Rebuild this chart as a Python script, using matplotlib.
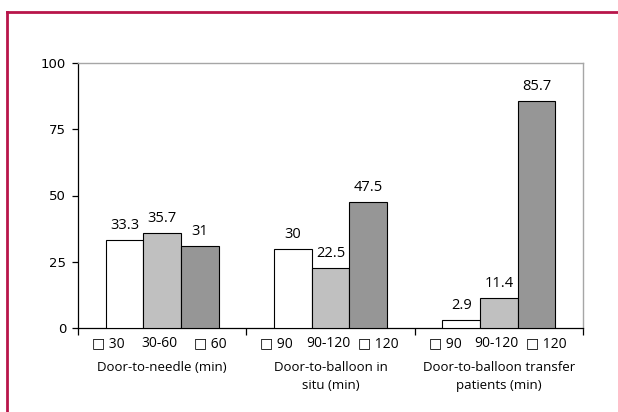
#!/usr/bin/env python3
"""Grouped bar chart: door-to-needle / door-to-balloon times (%)."""

import numpy as np
import matplotlib
matplotlib.use("Agg")
import matplotlib.pyplot as plt
from matplotlib.lines import Line2D

# ── Data ─────────────────────────────────────────────────────────────
categories = ["Door-to-needle (min)",
              "Door-to-balloon in\nsitu (min)",
              "Door-to-balloon transfer\npatients (min)"]
sub_labels = [["\u25a1 30", "30-60", "\u25a1 60"],
              ["\u25a1 90", "90-120", "\u25a1 120"],
              ["\u25a1 90", "90-120", "\u25a1 120"]]
values_low = [33.3, 30, 2.9]
values_mid = [35.7, 22.5, 11.4]
values_high = [31, 47.5, 85.7]
y_ticks = [0, 25, 50, 75, 100]

# ── Style ────────────────────────────────────────────────────────────
plt.rcParams.update({
    "font.family": ["Open Sans", "DejaVu Sans"],
    "font.size": 9,
})

BAR_COLORS = ["#ffffff", "#c0c0c0", "#969696"]
FRAME_GRAY = "#a6a6a6"
BORDER = "#b8154a"
LABEL_OFFSETS = [-0.32, -0.015, 0.285]   # sub-label spread inside a group

fig = plt.figure(figsize=(6.18, 4.12), dpi=100)
ax = fig.add_axes([78 / 618, 84 / 412, 505 / 618, 265 / 412])

x = np.arange(len(categories))
w = 0.224
series = [values_low, values_mid, values_high]
for i, vals in enumerate(series):
    pos = x + (i - 1) * w
    bars = ax.bar(pos, vals, width=w, color=BAR_COLORS[i],
                  edgecolor="black", linewidth=0.8, zorder=3)
    for b, v in zip(bars, vals):
        ax.annotate(f"{v:g}", (b.get_x() + b.get_width() / 2, v),
                    xytext=(0, 5), textcoords="offset points",
                    ha="center", va="bottom", fontsize=10.5)

ax.set_xlim(-0.5, 2.5)
ax.set_ylim(0, 100)
ax.set_yticks(y_ticks)
ax.set_yticklabels([str(t) for t in y_ticks], family="DejaVu Sans", fontsize=9.5)
ax.tick_params(axis="y", direction="out", length=4, width=0.9, pad=4.5)

# sub labels under each group, boundary ticks as minor ticks
label_pos = [xi + off for xi in x for off in LABEL_OFFSETS]
all_labels = [lab for grp in sub_labels for lab in grp]
ax.set_xticks(label_pos)
ax.set_xticklabels(all_labels, fontsize=10)
ax.tick_params(axis="x", which="major", length=0, pad=6)
ax.set_xticks(np.arange(-0.5, 3.0, 1.0), minor=True)
ax.tick_params(axis="x", which="minor", direction="out", length=5, width=0.9)

for xi, cat in zip(x, categories):
    ax.text(xi, -0.125, cat, transform=ax.get_xaxis_transform(),
            ha="center", va="top", fontsize=9.5, linespacing=1.45)

for side in ["left", "bottom"]:
    ax.spines[side].set_color("black")
    ax.spines[side].set_linewidth(0.9)
for side in ["top", "right"]:
    ax.spines[side].set_color(FRAME_GRAY)
    ax.spines[side].set_linewidth(1.0)

# crimson frame around the figure (left and top visible)
fig.add_artist(Line2D([6.5 / 618, 6.5 / 618], [0, 1 - 11.5 / 412],
                      transform=fig.transFigure, color=BORDER, lw=2))
fig.add_artist(Line2D([6.5 / 618, 1], [1 - 11.5 / 412, 1 - 11.5 / 412],
                      transform=fig.transFigure, color=BORDER, lw=2))

fig.savefig("out.png", dpi=100)
